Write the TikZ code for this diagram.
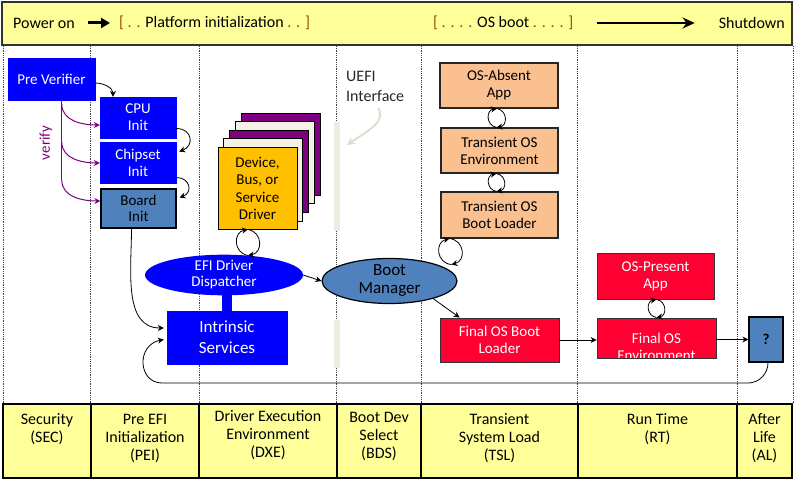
\documentclass[tikz,border=0pt]{standalone}
\usepackage{fontspec}
\setmainfont{Carlito}
\usetikzlibrary{arrows.meta,calc,shapes.geometric}
\definecolor{banner}{HTML}{FFFF99}
\definecolor{pblue}{HTML}{0000FF}
\definecolor{steel}{HTML}{4F81BD}
\definecolor{drvy}{HTML}{FFC000}
\definecolor{purp}{HTML}{7F007F}
\definecolor{cream}{HTML}{F4F2E6}
\definecolor{orng}{HTML}{FAC090}
\definecolor{ored}{HTML}{FF0033}
\definecolor{beige}{HTML}{EEECE1}
\definecolor{brk}{HTML}{984807}
\definecolor{uefig}{HTML}{DDDBCB}
\begin{document}
\begin{tikzpicture}[x=1pt,y=-1pt,
  font=\fontsize{15}{17}\selectfont,
  box/.style={rectangle, align=center, inner sep=0pt},
  bluebox/.style={box, fill=pblue, draw=pblue, text=white},
  steelbox/.style={box, fill=steel, draw=black, line width=1.2pt, text=black},
  orbox/.style={box, fill=orng, draw=black!85, line width=1.1pt, text=black},
  redbox/.style={box, fill=ored, draw=black!80, line width=0.9pt, text=white},
  drvlayer/.style={box, draw=black, line width=1pt, minimum width=79pt, minimum height=82pt},
  arr/.style={-{Stealth[length=6pt,width=6pt]}, line width=0.8pt, black},
  loopar/.style={arr, bend left=80, looseness=1.5},
  varr/.style={-{Stealth[length=6pt,width=6pt]}, line width=1pt, purp},
  divider/.style={densely dotted, line width=0.8pt, black!75},
  celltext/.style={align=center, font=\fontsize{16}{18}\selectfont, inner sep=0pt},
  bannertext/.style={font=\fontsize{16}{18}\selectfont, inner sep=0pt}
]
\useasboundingbox[fill=white] (0,0) rectangle (800,481);

% banner
\draw[fill=banner, draw=black!80, line width=1.2pt] (2,2) rectangle (792,45);
\node[anchor=west, bannertext] (pon) at (13,23) {Power on};
\node[anchor=west, bannertext] (plat) at (119,23) {\textcolor{brk}{[ . .} Platform initialization \textcolor{brk}{. . ]}};
\node[anchor=west, bannertext] (osb) at (433,23) {\textcolor{brk}{[ . . . .} OS boot \textcolor{brk}{. . . . ]}};
\node[anchor=east, bannertext] (shut) at (785,23) {Shutdown};
\draw[-{Triangle[length=9pt,width=10pt]}, line width=3pt] ($(pon.east)+(13,0)$) -- ($(plat.west)+(-9,0)$);
\draw[-{Stealth[length=12pt,width=11pt]}, line width=2.5pt] ($(osb.east)+(23,0)$) -- ($(shut.west)+(-24,0)$);

% dotted dividers
\foreach \x in {3,90,199,336,421,577,737,793}
  \draw[divider] (\x,46) -- (\x,404);

% beige interface bars
\fill[beige] (334,122) rectangle (340,231);
\fill[beige] (334,320) rectangle (340,368);

% bottom table
\draw[fill=banner, draw=black, line width=1.3pt] (3,404) rectangle (792,478);
\foreach \x in {91,199,337,421,578,737}
  \draw[black, line width=1.3pt] (\x,404) -- (\x,478);
\node[celltext] (sec) at (47,429) {Security\\(SEC)};
\node[celltext] (pei) at (145,438) {Pre EFI\\Initialization\\(PEI)};
\node[celltext] (dxe) at (268,435.5) {Driver Execution\\Environment\\(DXE)};
\node[celltext] (bds) at (379,436) {Boot Dev\\Select\\(BDS)};
\node[celltext] (tsl) at (499.5,438) {Transient\\System Load\\(TSL)};
\node[celltext] (rt) at (657.5,429) {Run Time\\(RT)};
\node[celltext] (al) at (764.5,438) {After\\Life\\(AL)};

% SEC / PEI boxes
\node[bluebox, minimum width=87pt, minimum height=42pt] (pre) at (51.5,79) {Pre Verifier};
\node[bluebox, minimum width=76pt, minimum height=41pt] (cpu) at (138,117.5) {CPU\\Init};
\node[bluebox, minimum width=76pt, minimum height=41pt] (chip) at (138,162.5) {Chipset\\Init};
\node[steelbox, minimum width=75pt, minimum height=39pt] (board) at (138.5,208.5) {Board\\[-1pt]Init};

% driver stack
\node[drvlayer, fill=purp] (d4) at ($(257.5,188.5)+(23,-34)$) {};
\node[drvlayer, fill=cream] (d3) at ($(257.5,188.5)+(17.25,-25.5)$) {};
\node[drvlayer, fill=purp] (d2) at ($(257.5,188.5)+(11.5,-17)$) {};
\node[drvlayer, fill=cream] (d1) at ($(257.5,188.5)+(5.75,-8.5)$) {};
\node[drvlayer, fill=drvy, minimum height=81pt, text=black, font=\fontsize{15}{17.5}\selectfont] (drv) at (257.5,188.5) {Device,\\Bus, or\\Service\\Driver};

% DXE
\node[ellipse, fill=pblue, text=white, minimum width=158pt, minimum height=40pt, inner sep=0pt, align=center] (efi) at (224,275) {EFI Driver\\[-1pt]Dispatcher};
\node[bluebox, minimum width=120pt, minimum height=53pt, font=\fontsize{17}{21}\selectfont] (intr) at (227,337.5) {Intrinsic\\Services};
\draw[pblue, line width=10pt] (intr.north) -- ($(intr.north)+(0,-18)$);
\node[ellipse, fill=steel, draw=black, line width=1.2pt, minimum width=135pt, minimum height=42pt, inner sep=0pt, align=center, font=\fontsize{17}{18}\selectfont] (boot) at (389.5,281) {Boot\\Manager};

% UEFI interface
\node[anchor=north west, align=left, inner sep=0pt, font=\fontsize{16}{20}\selectfont, text=black!85] (uefi) at (346,71) {UEFI\\Interface};
\coordinate (ue) at (347,145);
\draw[-{Stealth[length=8pt,width=8pt,open]}, uefig, line width=1.8pt] ($(uefi.south)+(3,6)$) .. controls ($(uefi.south)+(10,20)$) and (372,128) .. (ue);

% TSL
\node[orbox, minimum width=118pt, minimum height=45pt] (absent) at (499,85.5) {OS-Absent\\App};
\node[orbox, minimum width=117pt, minimum height=45pt] (tenv) at (499.5,150.5) {Transient OS\\Environment};
\node[orbox, minimum width=117pt, minimum height=46pt] (tbl) at (499.5,215) {Transient OS\\Boot Loader};
\node[redbox, minimum width=119pt, minimum height=44pt] (fbl) at (499.5,340) {Final OS Boot\\Loader};

% RT / AL
\node[redbox, minimum width=117pt, minimum height=46pt] (opa) at (655.5,276) {OS-Present\\App};
\node[redbox, minimum width=119pt, minimum height=40pt,
  path picture={\node[text=white, align=center, inner sep=0pt] at ($(path picture bounding box.center)+(0,9)$) {Final OS\\Environment};}] (fenv) at (656.5,338) {};
\node[steelbox, minimum width=34pt, minimum height=45pt, font=\fontsize{15}{17}\selectfont\bfseries] (q) at (766,339.5) {?};

% SEC/PEI connectors
\draw[arr] ($(pre.east)+(0,4)$) to[out=0,in=90] ($(cpu.north)+(-25,0)$);
\draw[arr] ($(cpu.east)+(0,11)$) to[out=0,in=20,looseness=1.8] ($(chip.east)+(3,-11)$);
\draw[arr] ($(chip.east)+(0,15)$) to[out=0,in=20,looseness=1.8] ($(board.east)+(3,-11)$);
\coordinate (v0) at ($(pre.south west)+(54,0)$);
\draw[purp, line width=1pt] (v0) -- ($(v0)+(0,80)$);
\draw[varr] ($(v0)+(0,4)$) to[out=-90,in=180] ($(cpu.west)+(0,7.5)$);
\draw[varr] ($(v0)+(0,42)$) to[out=-90,in=180] ($(chip.west)+(0,0.5)$);
\draw[varr] ($(v0)+(0,80)$) to[out=-90,in=180] ($(board.west)+(0,-7.5)$);
\node[rotate=90, text=purp, font=\fontsize{15}{17}\selectfont, inner sep=0pt] (vlabel) at (46,143) {verify};
\draw[arr] ($(board.south)+(-7,0)$) to[out=-90,in=180] ($(intr.west)+(-3,-9.5)$);

% loops
\coordinate (l1a) at ($(drv.south)+(-9.5,0)$);
\coordinate (l1b) at ($(efi.north)+(24,1)$);
\draw[loopar] (l1b) to (l1a);
\draw[loopar] (l1a) to (l1b);
\coordinate (l2a) at ($(tbl.south west)+(9,0)$);
\coordinate (l2b) at ($(tbl.south west)+(11,26)$);
\draw[loopar] (l2b) to (l2a);
\draw[loopar] (l2a) to (l2b);
\draw[loopar] ($(tenv.north)+(-3,0)$) to ($(absent.south)+(-2,0)$);
\draw[loopar] ($(absent.south)+(-2,0)$) to ($(tenv.north)+(-3,0)$);
\draw[loopar] ($(tbl.north)+(-3,0)$) to ($(tenv.south)+(-3,0)$);
\draw[loopar] ($(tenv.south)+(-3,0)$) to ($(tbl.north)+(-3,0)$);
\draw[loopar] ($(fenv.north)+(0,0)$) to ($(opa.south)+(1,0)$);
\draw[loopar] ($(opa.south)+(1,0)$) to ($(fenv.north)+(0,0)$);

% main flow
\draw[arr] (efi.east) -- (boot.west);
\draw[arr] (boot.-22) -- ($(fbl.north west)+(20,0)$);
\draw[arr] (fbl.east) -- (fenv.west |- fbl.east);
\draw[arr] (fenv.east |- q.west) -- (q.west);
\coordinate (r1) at (748,383);
\coordinate (r2) at (162,383);
\draw[arr] ($(q.south)+(2,0)$) to[out=-90,in=0] (r1) -- (r2)
  .. controls (138,383) and (136,345) .. ($(intr.west)+(-3,2)$);
\end{tikzpicture}
\end{document}
